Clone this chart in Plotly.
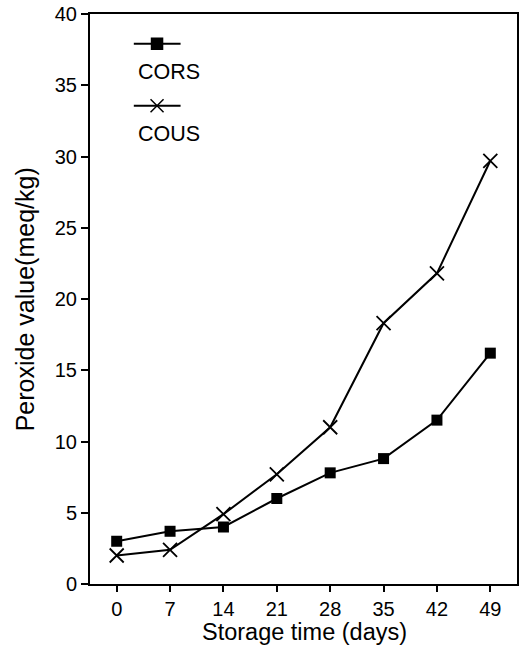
import plotly.graph_objects as go

days = [0, 7, 14, 21, 28, 35, 42, 49]
cors = [3.0, 3.7, 4.0, 6.0, 7.8, 8.8, 11.5, 16.2]
cous = [2.0, 2.4, 4.9, 7.7, 11.0, 18.3, 21.8, 29.7]
y_ticks = [0, 5, 10, 15, 20, 25, 30, 35, 40]
series_names = ["CORS", "COUS"]

FONT = "Liberation Sans, Arial, sans-serif"

fig = go.Figure()
fig.add_trace(go.Scatter(
    x=days, y=cors, mode="lines+markers", name=series_names[0],
    line=dict(color="black", width=2),
    marker=dict(symbol="square", size=11, color="black"),
    showlegend=False, cliponaxis=False))
fig.add_trace(go.Scatter(
    x=days, y=cous, mode="lines+markers", name=series_names[1],
    line=dict(color="black", width=2),
    marker=dict(symbol="x-thin", size=14, color="black",
                line=dict(color="black", width=1.8)),
    showlegend=False, cliponaxis=False))

# manual legend (symbol above label) on an overlay unit axis
leg_line_y = [0.9476, 0.8392]
leg_text_y = [0.8977, 0.7902]
for i, (nm, sym) in enumerate(zip(series_names, ["square", "x-thin"])):
    fig.add_trace(go.Scatter(
        x=[0.1026, 0.157, 0.2121], y=[leg_line_y[i]] * 3, mode="lines",
        line=dict(color="black", width=2), xaxis="x2", yaxis="y2",
        showlegend=False, hoverinfo="skip"))
    fig.add_trace(go.Scatter(
        x=[0.157], y=[leg_line_y[i]], mode="markers",
        marker=dict(symbol=sym, size=11 if sym == "square" else 13, color="black",
                    line=dict(color="black", width=1.5)),
        xaxis="x2", yaxis="y2", showlegend=False, hoverinfo="skip"))
    fig.add_annotation(x=0.1072, y=leg_text_y[i], xref="paper", yref="paper",
                       text=nm, showarrow=False, xanchor="left", yanchor="middle",
                       font=dict(size=21.5, color="black", family=FONT))

# axis titles
fig.add_annotation(x=-0.1515, y=0.5, xref="paper", yref="paper",
                   text="Peroxide value(meq/kg)", textangle=-90, showarrow=False,
                   xanchor="center", yanchor="middle",
                   font=dict(size=25, color="black", family=FONT))
fig.add_annotation(x=0.5023, y=-0.0839, xref="paper", yref="paper",
                   text="Storage time (days)", showarrow=False,
                   xanchor="center", yanchor="middle",
                   font=dict(size=23.5, color="black", family=FONT))

fig.update_layout(
    width=522, height=648,
    margin=dict(l=90, r=3, t=12, b=64),
    paper_bgcolor="white", plot_bgcolor="white",
    font=dict(family=FONT, size=20, color="black"),
    xaxis=dict(
        range=[-3.5, 52.5], tickvals=days, ticktext=[str(d) for d in days],
        ticks="outside", ticklen=6, tickwidth=2, tickcolor="black",
        showline=True, linecolor="black", linewidth=2, mirror=True,
        showgrid=False, zeroline=False, tickfont=dict(size=20)),
    yaxis=dict(
        range=[0, 40], tickvals=y_ticks,
        ticks="outside", ticklen=7, tickwidth=2, tickcolor="black",
        showline=True, linecolor="black", linewidth=2, mirror=True,
        showgrid=False, zeroline=False, tickfont=dict(size=20)),
    xaxis2=dict(overlaying="x", range=[0, 1], visible=False),
    yaxis2=dict(overlaying="y", range=[0, 1], visible=False),
)

fig.write_html("out.html", config={"displayModeBar": False},
               post_script="document.body.style.margin='0px';")
